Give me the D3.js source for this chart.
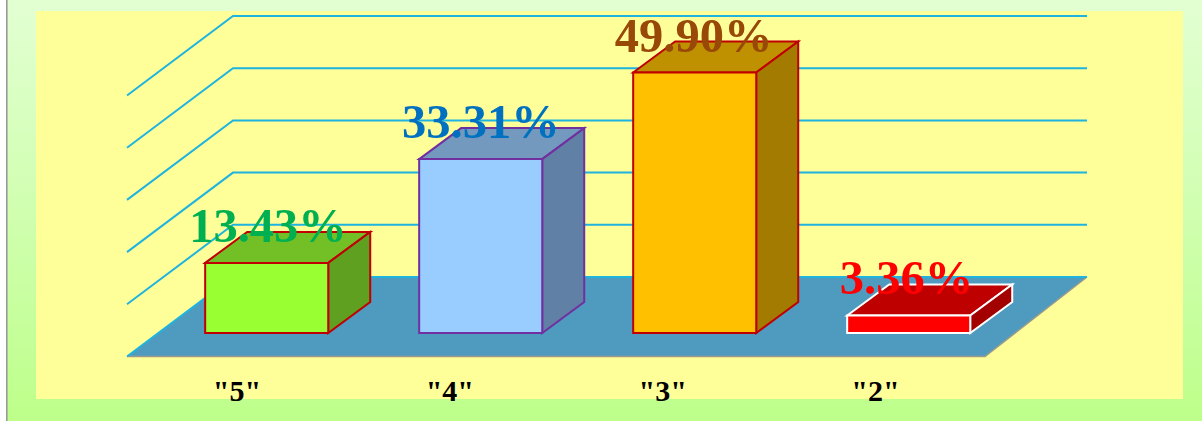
<!DOCTYPE html>
<html><head><meta charset="utf-8">
<script src="https://cdn.jsdelivr.net/npm/d3@7/dist/d3.min.js"></script>
<style>html,body{margin:0;padding:0;background:#fff;overflow:hidden}svg{display:block}</style>
</head><body><svg id="c" width="1202" height="421"></svg>
<script>
const categories = ['"5"', '"4"', '"3"', '"2"'];
const values = [13.43, 33.31, 49.90, 3.36];
const labels = ["13.43%", "33.31%", "49.90%", "3.36%"];
const gridTicks = [0, 10, 20, 30, 40, 50];
const frontColors = ["#99FF33", "#99CCFF", "#FFC000", "#FF0000"];
const topColors = ["#73BF26", "#7399BF", "#BF9000", "#BF0000"];
const sideColors = ["#5FA020", "#6180A6", "#A37B00", "#A30000"];
const edgeColors = ["#C00000", "#7030A0", "#C00000", "#FFFFFF"];
const labelColors = ["#00B050", "#0070C0", "#984807", "#FF0000"];

const svg = d3.select("#c");
const defs = svg.append("defs");
const g = defs.append("linearGradient").attr("id","bg").attr("x1",0).attr("y1",0).attr("x2",0).attr("y2",1);
g.append("stop").attr("offset",0).attr("stop-color","#E2FFD2");
g.append("stop").attr("offset",0.5).attr("stop-color","#D0FFB0");
g.append("stop").attr("offset",1).attr("stop-color","#BDFF8A");
defs.append("clipPath").attr("id","plotClip").append("rect").attr("x",36).attr("y",11).attr("width",1147).attr("height",390);

svg.append("rect").attr("x",7).attr("y",0).attr("width",1195).attr("height",421).attr("fill","url(#bg)");
svg.append("rect").attr("x",6).attr("y",0).attr("width",1.6).attr("height",421).attr("fill","#9a9a9a");
svg.append("rect").attr("x",36).attr("y",11).attr("width",1147).attr("height",388).attr("fill","#FFFF99");

// scales
const floorFront = 356.5, floorLeft = 127, floorRight = 985;
const depthX = 106, depthY = 79.5;
const x = d3.scaleBand().domain(categories).range([159.7, 1015.7]).paddingInner(0.425).paddingOuter(0.2125);
const xLabel = d3.scalePoint().domain(categories).range([268, 906.5]);
const h = d3.scaleLinear().domain([0, 50]).range([0, 261]);
const barBase = 333, barDX = 42, barDY = 31;
const line = d3.line();

// floor
svg.append("path")
  .attr("d", line([[floorLeft,floorFront],[floorLeft+depthX,floorFront-depthY],[floorRight+102,floorFront-depthY],[floorRight,floorFront]])+"Z")
  .attr("fill","#4F9BC0");
svg.append("path")
  .attr("d", line([[floorLeft,floorFront],[floorRight,floorFront],[floorRight+102,floorFront-depthY]]))
  .attr("fill","none").attr("stroke","#9a9a8a").attr("stroke-width",1.5);

// gridlines
svg.append("g").selectAll("path").data(gridTicks).join("path")
  .attr("d", t => {
    const y = floorFront - h(t);
    return line([[floorLeft,y],[floorLeft+depthX,y-depthY],[floorRight+102,y-depthY]]);
  })
  .attr("fill","none").attr("stroke","#1FB4DF").attr("stroke-width",2);

// bars
const bars = svg.append("g").selectAll("g").data(categories).join("g");
bars.each(function(c, i){
  const s = d3.select(this), x0 = x(c), x1 = x0 + x.bandwidth(), yTop = barBase - h(values[i]);
  const face = (pts, fill) => s.append("path").attr("d", line(pts)+"Z").attr("fill",fill)
    .attr("stroke",edgeColors[i]).attr("stroke-width",2).attr("stroke-linejoin","miter");
  face([[x0,yTop],[x0+barDX,yTop-barDY],[x1+barDX,yTop-barDY],[x1,yTop]], topColors[i]);
  face([[x1,yTop],[x1+barDX,yTop-barDY],[x1+barDX,barBase-barDY],[x1,barBase]], sideColors[i]);
  face([[x0,yTop],[x1,yTop],[x1,barBase],[x0,barBase]], frontColors[i]);
});

// value labels
svg.append("g").selectAll("text").data(categories).join("text")
  .attr("x", c => xLabel(c))
  .attr("y", (c,i) => barBase - h(values[i]) - 21)
  .attr("text-anchor","middle")
  .attr("font-family","'Liberation Serif', serif").attr("font-weight","bold").attr("font-size",48.5)
  .attr("fill",(c,i)=>labelColors[i])
  .text((c,i)=>labels[i]);

// category labels
svg.append("g").attr("clip-path","url(#plotClip)").selectAll("text").data(categories).join("text")
  .attr("x", c => xLabel(c) - 31)
  .attr("y", 401)
  .attr("text-anchor","middle")
  .attr("font-family","'Liberation Serif', serif").attr("font-weight","bold").attr("font-size",30)
  .attr("fill","#000")
  .text(c=>c);
</script></body></html>
